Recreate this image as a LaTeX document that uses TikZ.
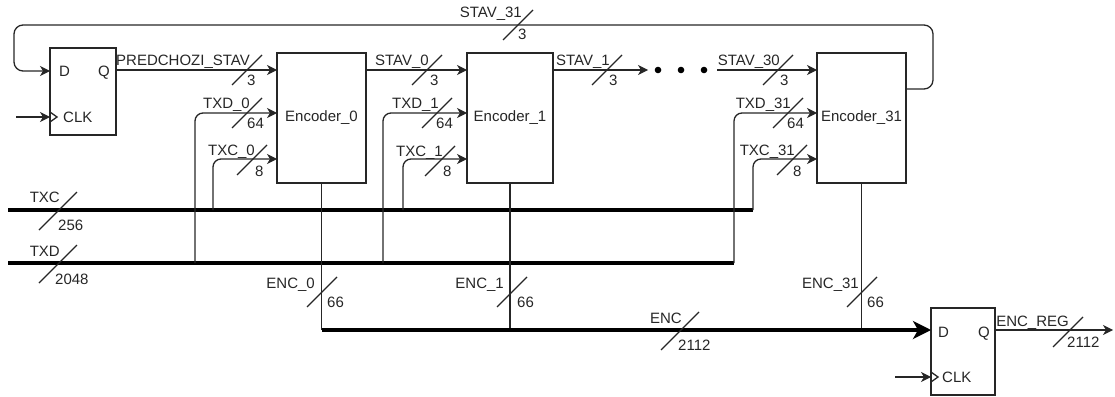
\documentclass[tikz,border=0pt]{standalone}
\usepackage{fontspec}
\setmainfont{Liberation Sans}
\usetikzlibrary{arrows.meta}
\newcommand{\busslash}[3]{\draw[slashline] ({#1-#3},{#2+#3}) -- ({#1+#3},{#2-#3});}
\begin{document}
\begin{tikzpicture}[x=1pt,y=-1pt,
  font=\fontsize{15pt}{18pt}\selectfont,
  wire/.style={line width=1.3pt, draw=black!85},
  bus/.style={line width=3.6pt, draw=black},
  arr/.style={-{Stealth[length=10pt,width=10pt,inset=3pt]}},
  bigarr/.style={-{Stealth[length=18pt,width=18pt,inset=5pt]}},
  blk/.style={draw=black!85, line width=1.3pt, fill=white, inner sep=0pt, outer sep=0pt, text=black!85},
  nm/.style={inner sep=0pt, anchor=base east, text=black!85},
  nb/.style={inner sep=0pt, anchor=base west, text=black!85},
  pin/.style={inner sep=0pt, anchor=base west, text=black!85},
  slashline/.style={line width=1.1pt, draw=black!85}]
\useasboundingbox (0,0) rectangle (1115,396);

% blocks
\node[blk, minimum width=66pt, minimum height=87pt] (ff1) at (83,91.5) {};
\node[blk, minimum width=89pt, minimum height=130pt] (enc0) at (321.5,118) {Encoder\_0};
\node[blk, minimum width=86pt, minimum height=130pt] (enc1) at (510,118) {Encoder\_1};
\node[blk, minimum width=89pt, minimum height=130pt] (enc31) at (861.5,118) {Encoder\_31};
\node[blk, minimum width=64pt, minimum height=87pt] (ff2) at (963,351.5) {};

% flip-flop pin texts
\node[pin] (ff1D) at (59,76) {D};
\node[pin] (ff1Q) at (98,76) {Q};
\node[pin] (ff1C) at (63,122) {CLK};
\node[pin] (ff2D) at (938,337) {D};
\node[pin] (ff2Q) at (978,337) {Q};
\node[pin] (ff2C) at (942,382) {CLK};

% clock chevrons and clock inputs
\draw[wire, line join=miter] ([yshift=-64pt]ff1.north west) -- ++(7,5) -- ++(-7,5);
\draw[wire, line join=miter] ([yshift=-64pt]ff2.north west) -- ++(7,5) -- ++(-7,5);
\coordinate (clk1in) at (16,117);
\coordinate (clk2in) at (895,377);
\draw[wire, arr] (clk1in) -- ([yshift=-69pt]ff1.north west);
\draw[wire, arr] (clk2in) -- ([yshift=-69pt]ff2.north west);

% state chain
\draw[wire, arr] ([yshift=-22pt]ff1.north east) -- ([yshift=-17pt]enc0.north west);
\draw[wire, arr] ([yshift=-17pt]enc0.north east) -- ([yshift=-17pt]enc1.north west);
\coordinate (s1end) at (648,70);
\coordinate (s30start) at (717,70);
\draw[wire, arr] ([yshift=-17pt]enc1.north east) -- (s1end);
\draw[wire, arr] (s30start) -- ([yshift=-17pt]enc31.north west);
\fill[black] (658,70) circle[radius=3.3pt];
\fill[black] (681,70) circle[radius=3.3pt];
\fill[black] (704,70) circle[radius=3.3pt];

% feedback
\coordinate (fbR) at (933,25);
\coordinate (fbL) at (14,71);
\draw[wire, arr, rounded corners=9pt] ([yshift=-36pt]enc31.north east) -| (fbR) -| (fbL) -- ([yshift=-23pt]ff1.north west);

% buses TXC / TXD
\coordinate (txcS) at (8,210);
\coordinate (txdS) at (8,263);
\coordinate (txc0) at (213,210);
\coordinate (txd0) at (195,263);
\coordinate (txc1) at (403,210);
\coordinate (txd1) at (383,263);
\coordinate (txc31) at (753,210);
\coordinate (txd31) at (734,263);
\draw[bus] (txcS) -- (txc31);
\draw[bus] (txdS) -- (txd31);

\draw[wire, arr, rounded corners=8pt] (txd0) |- ([yshift=-60pt]enc0.north west);
\draw[wire, arr, rounded corners=8pt] (txc0) |- ([yshift=-106pt]enc0.north west);
\draw[wire, arr, rounded corners=8pt] (txd1) |- ([yshift=-60pt]enc1.north west);
\draw[wire, arr, rounded corners=8pt] (txc1) |- ([yshift=-106pt]enc1.north west);
\draw[wire, arr, rounded corners=8pt] (txd31) |- ([yshift=-60pt]enc31.north west);
\draw[wire, arr, rounded corners=8pt] (txc31) |- ([yshift=-106pt]enc31.north west);

% encoder outputs and ENC bus
\coordinate (e0o) at (321.5,330);
\coordinate (e1o) at (510,330);
\coordinate (e31o) at (861.5,330);
\draw[wire] (enc0.south) -- (e0o);
\draw[wire] (enc1.south) -- (e1o);
\draw[wire] (enc31.south) -- (e31o);
\draw[bus, bigarr] (e0o) -- ([yshift=-22pt]ff2.north west);
\coordinate (regout) at (1113,330);
\draw[wire, arr] ([yshift=-22pt]ff2.north east) -- (regout);

% bus width marks and labels
\busslash{247}{70}{15}
\node[nm] (l1n) at (250,65) {PREDCHOZI\_STAV};
\node[nb] (l1w) at (247,85) {3};
\busslash{427}{70}{15}
\node[nm] (l2n) at (429,65) {STAV\_0};
\node[nb] (l2w) at (430,85) {3};
\busslash{607}{70}{15}
\node[nm] (l3n) at (610,65) {STAV\_1};
\node[nb] (l3w) at (609,85) {3};
\busslash{778}{70}{15}
\node[nm] (l4n) at (780,65) {STAV\_30};
\node[nb] (l4w) at (780,85) {3};
\busslash{518}{25}{15}
\node[nm] (l5n) at (522,18) {STAV\_31};
\node[nb] (l5w) at (518,40) {3};
\busslash{247}{113}{15}
\node[nm] (l6n) at (250,108) {TXD\_0};
\node[nb] (l6w) at (247,128) {64};
\busslash{252}{160}{15}
\node[nm] (l7n) at (255,155) {TXC\_0};
\node[nb] (l7w) at (255,176) {8};
\busslash{437}{113}{15}
\node[nm] (l8n) at (439,108) {TXD\_1};
\node[nb] (l8w) at (436,128) {64};
\busslash{440}{161}{15}
\node[nm] (l9n) at (443,156) {TXC\_1};
\node[nb] (l9w) at (443,176) {8};
\busslash{788}{113}{15}
\node[nm] (l10n) at (791,108) {TXD\_31};
\node[nb] (l10w) at (787,128) {64};
\busslash{792}{160}{15}
\node[nm] (l11n) at (795,155) {TXC\_31};
\node[nb] (l11w) at (793,176) {8};
\busslash{58}{211}{19}
\node[nm] (l12n) at (60,202) {TXC};
\node[nb] (l12w) at (58,230) {256};
\busslash{58}{264}{19}
\node[nm] (l13n) at (60,256) {TXD};
\node[nb] (l13w) at (55,284) {2048};
\busslash{322}{292}{15}
\node[nm] (l14n) at (315,288) {ENC\_0};
\node[nb] (l14w) at (327,307) {66};
\busslash{512}{292}{15}
\node[nm] (l15n) at (504,288) {ENC\_1};
\node[nb] (l15w) at (517,307) {66};
\busslash{862}{292}{15}
\node[nm] (l16n) at (859,288) {ENC\_31};
\node[nb] (l16w) at (867,307) {66};
\busslash{680}{331}{19}
\node[nm] (l17n) at (682,323) {ENC};
\node[nb] (l17w) at (678,350) {2112};
\busslash{1068}{332}{15}
\node[nm] (l18n) at (1069,326) {ENC\_REG};
\node[nb] (l18w) at (1067,347) {2112};
\end{tikzpicture}
\end{document}
